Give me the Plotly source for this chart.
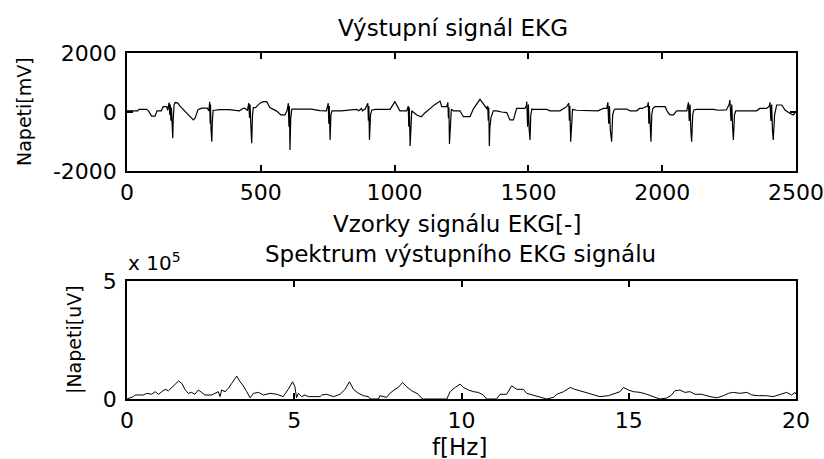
import plotly.graph_objects as go
from plotly.subplots import make_subplots

# top panel: EKG output signal (sample index, mV)
ekg_samples = [
    0, 40, 45, 73, 80, 92, 105, 112, 128, 135, 148, 152, 157, 160, 162, 164, 166, 168, 171, 173,
    176, 180, 190, 198, 215, 230, 248, 255, 265, 279, 300, 306, 309, 311, 312, 314, 317, 319, 322, 330,
    345, 380, 400, 420, 433, 440, 450, 455, 458, 460, 463, 466, 469, 472, 480, 497, 510, 522, 534, 559,
    575, 590, 598, 603, 605, 607, 609, 612, 616, 622, 647, 690, 720, 745, 752, 754, 756, 759, 762, 766,
    800, 820, 840, 858, 866, 876, 880, 890, 900, 902, 904, 906, 910, 915, 930, 983, 1001, 1020, 1045, 1051,
    1053, 1055, 1058, 1061, 1064, 1083, 1095, 1100, 1112, 1132, 1150, 1170, 1176, 1195, 1199, 1201, 1203, 1205, 1208, 1212,
    1220, 1244, 1257, 1282, 1294, 1310, 1319, 1325, 1335, 1344, 1348, 1350, 1352, 1354, 1356, 1360, 1369, 1381, 1400, 1419,
    1431, 1444, 1456, 1487, 1492, 1494, 1497, 1500, 1503, 1506, 1509, 1513, 1518, 1568, 1581, 1618, 1643, 1651, 1653, 1655,
    1658, 1662, 1665, 1680, 1730, 1760, 1780, 1793, 1797, 1800, 1803, 1806, 1811, 1815, 1820, 1824, 1867, 1880, 1905, 1915,
    1925, 1945, 1948, 1950, 1952, 1955, 1958, 1961, 1965, 1973, 2011, 2020, 2029, 2042, 2054, 2092, 2096, 2098, 2101, 2104,
    2107, 2110, 2114, 2118, 2129, 2191, 2210, 2240, 2250, 2253, 2257, 2260, 2263, 2266, 2270, 2275, 2291, 2353, 2365, 2390,
    2400, 2403, 2406, 2409, 2412, 2415, 2420, 2428, 2447, 2459, 2478, 2490, 2500,
]
ekg_mv = [
    40, 40, 90, 90, 40, -140, -140, 40, 40, 180, 180, 60, 320, -100, 250, -300, 150, -500, -890, -200,
    250, 320, 300, 200, 50, -100, -270, -200, 80, 130, 130, 40, 350, -400, 250, -600, -1006, -300, 60, 60,
    80, 80, 60, 40, 120, 130, 50, 300, -200, 250, -500, -1062, -100, 150, 150, 300, 350, 350, 150, 30,
    -100, -100, 40, 300, -500, 200, -1288, -200, 100, 100, 100, 100, 50, 40, 300, -400, 200, -949, -100, 40,
    40, 60, 90, 90, 40, 120, 40, 100, 300, -300, 200, -949, -100, 68, 90, 90, 350, 40, 40, 200,
    -500, 150, -1152, -100, 40, -100, -160, -160, -40, 120, 250, 370, 180, 180, 330, -200, 150, -1085, -300, 90,
    40, 40, -160, -160, 100, 300, 430, 360, 250, 120, 200, -300, 150, -1152, -550, -200, 40, 40, 0, -20,
    -270, -270, 120, 120, 200, 350, -500, 250, -600, -949, -100, 100, 90, 90, 40, 40, 180, 300, -300, 200,
    -1006, -100, 90, 60, 40, 40, 120, 120, 330, -400, 200, -600, -1006, -100, 68, 100, 100, 40, 40, 120,
    120, 200, 330, -400, 200, -500, -1006, -100, 120, 180, 180, 0, -100, -100, 40, 40, 180, 330, -300, 250,
    -600, -1006, -100, 68, 90, 90, 60, 70, 250, 410, -300, 250, -500, -949, -100, 40, 40, 40, 120, 120,
    200, 330, -300, 250, -600, -949, -100, 238, 238, 68, -50, -100, 10,
]

# bottom panel: spectrum magnitude (Hz, uV)
spec_hz = [
    0, 0.19, 0.24, 0.49, 0.59, 0.74, 0.84, 0.94, 1.04, 1.14, 1.24, 1.34, 1.44, 1.54, 1.64, 1.73, 1.83, 1.93, 2.03, 2.13,
    2.23, 2.33, 2.53, 2.73, 2.78, 2.83, 2.93, 3.03, 3.13, 3.28, 3.38, 3.48, 3.58, 3.68, 3.78, 3.93, 4.08, 4.28, 4.48, 4.67,
    4.82, 4.95, 5.02, 5.07, 5.12, 5.22, 5.32, 5.42, 5.77, 5.82, 5.97, 6.17, 6.37, 6.52, 6.65, 6.77, 6.92, 7.07, 7.22, 7.27,
    7.52, 7.56, 7.76, 7.86, 8.01, 8.11, 8.24, 8.36, 8.51, 8.61, 8.71, 8.81, 8.86, 9.56, 9.66, 9.81, 9.96, 10.06, 10.21, 10.36,
    10.50, 10.65, 10.75, 11.05, 11.15, 11.35, 11.50, 11.65, 11.85, 11.95, 12.15, 12.35, 12.55, 12.75, 12.85, 13.05, 13.25, 13.39, 13.54, 13.74,
    13.94, 14.14, 14.39, 14.59, 14.74, 14.84, 14.99, 15.14, 15.34, 15.54, 15.73, 15.93, 16.13, 16.28, 16.38, 16.53, 16.68, 16.83, 16.98, 17.18,
    17.43, 17.63, 17.83, 17.98, 18.13, 18.33, 18.53, 18.68, 18.88, 19.12, 19.32, 19.52, 19.72, 19.87, 19.97, 20,
]
spec_uv = [
    0, 10000, 17000, 17000, 24000, 20000, 31000, 20000, 31000, 41000, 35000, 49000, 59000, 76000, 66000, 41000, 24000, 28000, 20000, 38000,
    28000, 17000, 17000, 31000, 10000, 38000, 31000, 45000, 66000, 97000, 73000, 55000, 31000, 5000, 24000, 28000, 17000, 24000, 20000, 10000,
    41000, 73000, 52000, 5000, 24000, 10000, 17000, 10000, 10000, 17000, 20000, 10000, 20000, 41000, 73000, 41000, 24000, 14000, 10000, 0,
    0, 14000, 7000, 24000, 41000, 49000, 70000, 52000, 35000, 28000, 20000, 3000, 0, 0, 31000, 49000, 63000, 49000, 38000, 31000,
    28000, 17000, 0, 0, 20000, 20000, 56000, 41000, 41000, 24000, 17000, 7000, 0, 7000, 20000, 31000, 49000, 41000, 35000, 28000,
    17000, 10000, 14000, 24000, 31000, 49000, 38000, 31000, 28000, 20000, 10000, 0, 4000, 17000, 35000, 38000, 28000, 31000, 20000, 20000,
    10000, 5000, 14000, 24000, 28000, 24000, 28000, 17000, 14000, 14000, 10000, 20000, 28000, 17000, 28000, 20000,
]

FONT = "DejaVu Sans, Verdana, sans-serif"
W, H = 824, 459


def px_x(p):
    return p / W


def px_y(p):
    return 1 - p / H


fig = make_subplots(rows=2, cols=1)
fig.add_trace(go.Scatter(x=ekg_samples, y=ekg_mv, mode="lines",
                         line=dict(color="black", width=1.2), showlegend=False), row=1, col=1)
fig.add_trace(go.Scatter(x=spec_hz, y=spec_uv, mode="lines",
                         line=dict(color="black", width=1), showlegend=False), row=2, col=1)

axis_style = dict(showline=True, linecolor="black", linewidth=1.5, mirror="ticks",
                  ticks="inside", ticklen=6, tickcolor="black", tickwidth=1.5, showgrid=False,
                  zeroline=False, automargin=False,
                  tickfont=dict(family=FONT, size=22, color="black"))

xdom = [px_x(127), px_x(796)]
fig.update_xaxes(domain=xdom, range=[0, 2500], tickvals=[0, 500, 1000, 1500, 2000, 2500],
                 ticklabelstandoff=1, **axis_style, row=1, col=1)
fig.update_yaxes(domain=[px_y(171), px_y(53)], range=[-2000, 2000],
                 tickvals=[-2000, 0, 2000], ticktext=["-2000", "0", "2000"],
                 ticklabelstandoff=4, **axis_style, row=1, col=1)
fig.update_xaxes(domain=xdom, range=[0, 20], tickvals=[0, 5, 10, 15, 20],
                 ticklabelstandoff=1, **axis_style, row=2, col=1)
fig.update_yaxes(domain=[px_y(399), px_y(281)], range=[0, 500000],
                 tickvals=[0, 500000], ticktext=["0", "5"],
                 ticklabelstandoff=4, **axis_style, row=2, col=1)


def label(text, x, y, angle=0, size=23, xanchor="center"):
    fig.add_annotation(text=text, x=px_x(x), y=px_y(y), xref="paper", yref="paper",
                       showarrow=False, textangle=angle, xanchor=xanchor, yanchor="middle",
                       font=dict(family=FONT, size=size, color="black"))


label("Výstupní signál EKG", 453, 28)
label("Vzorky signálu EKG[-]", 457, 224)
label("Spektrum výstupního EKG signálu", 460, 254)
label("f[Hz]", 459, 447)
label("Napeti[mV]", 24, 112, angle=-90, size=19)
label("|Napeti[uV]", 74, 340, angle=-90, size=19)
label("x 10<sup>5</sup>", 126, 262, size=20, xanchor="left")

fig.update_layout(width=W, height=H,
                  margin=dict(l=0, r=0, t=0, b=0, pad=0, autoexpand=False),
                  plot_bgcolor="white", paper_bgcolor="white")

# drop the default page margin so the figure sits at the window's corner
fig.write_html("out.html", config={"displayModeBar": False},
               post_script="document.body.style.margin = '0';")
